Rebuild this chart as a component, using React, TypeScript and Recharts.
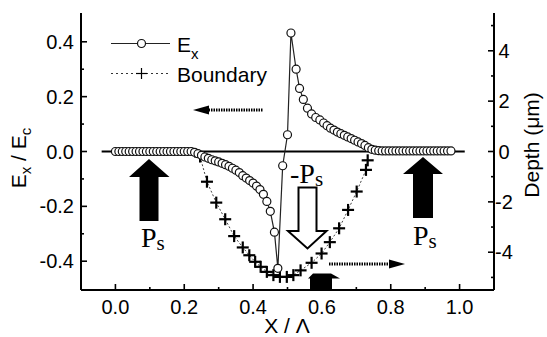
import React from 'react';
import { ComposedChart, Line, XAxis, YAxis, ReferenceLine } from 'recharts';

// E_x / E_c values along X / Lambda
const exX = [
  0.0, 0.01, 0.02, 0.03, 0.04, 0.05, 0.06, 0.07, 0.08, 0.09,
  0.1, 0.11, 0.12, 0.13, 0.14, 0.15, 0.16, 0.17, 0.18, 0.19,
  0.2, 0.21, 0.22, 0.23, 0.24, 0.25, 0.26, 0.27, 0.28, 0.29,
  0.3, 0.31, 0.32, 0.33, 0.34, 0.35, 0.36, 0.37, 0.38, 0.39,
  0.4, 0.41, 0.42, 0.43, 0.44, 0.45, 0.462, 0.472, 0.486, 0.5,
  0.51, 0.525, 0.535, 0.546, 0.558, 0.57, 0.582, 0.594, 0.605, 0.615,
  0.625, 0.635, 0.645, 0.655, 0.665, 0.675, 0.685, 0.695, 0.705, 0.715,
  0.725, 0.735, 0.745, 0.755, 0.765, 0.775, 0.785, 0.795, 0.805, 0.815,
  0.825, 0.835, 0.845, 0.855, 0.865, 0.875, 0.885, 0.895, 0.905, 0.915,
  0.925, 0.935, 0.945, 0.955, 0.965, 0.975,
];
const exY = [
  0, 0, 0, 0, 0, 0, 0, 0, 0, 0,
  0, 0, 0, 0, 0, 0, 0, 0, 0, 0,
  0, 0, 0, -0.003, -0.008, -0.014, -0.02, -0.025, -0.03, -0.034,
  -0.038, -0.043, -0.048, -0.054, -0.061, -0.068, -0.077, -0.088, -0.097, -0.106,
  -0.115, -0.126, -0.139, -0.156, -0.182, -0.218, -0.294, -0.426, -0.052, 0.061,
  0.432, 0.3, 0.23, 0.19, 0.158, 0.137, 0.124, 0.115, 0.104, 0.094,
  0.085, 0.078, 0.071, 0.065, 0.059, 0.053, 0.047, 0.041, 0.035, 0.029,
  0.022, 0.014, 0.008, 0.005, 0.003, 0.002, 0.002, 0.002, 0.002, 0.002,
  0.002, 0.002, 0.002, 0.002, 0.002, 0.002, 0.002, 0.002, 0.002, 0.002,
  0.002, 0.002, 0.002, 0.002, 0.002, 0.002,
];

// Domain boundary depth (um) along X / Lambda
const bX = [
  0.246, 0.266, 0.293, 0.319, 0.345, 0.37, 0.389, 0.406, 0.422, 0.44,
  0.459, 0.478, 0.498, 0.517, 0.538, 0.57, 0.599, 0.623, 0.65, 0.676,
  0.701, 0.728, 0.733,
];
const bDepth = [
  -0.2, -1.2, -2.03, -2.69, -3.36, -3.81, -4.12, -4.38, -4.58, -4.78,
  -4.91, -4.98, -4.98, -4.91, -4.72, -4.42, -4.05, -3.6, -3.05, -2.32,
  -1.59, -0.73, -0.35,
];

const xTicks = [0, 0.1, 0.2, 0.3, 0.4, 0.5, 0.6, 0.7, 0.8, 0.9, 1.0];
const leftTicks = [-0.4, -0.3, -0.2, -0.1, 0, 0.1, 0.2, 0.3, 0.4];
const rightTicks = [-5, -4, -3, -2, -1, 0, 1, 2, 3, 4, 5];

const exData = exX.map((x, i) => ({ x, ex: exY[i] }));
const bData = bX.map((x, i) => ({ x, depth: bDepth[i] }));

const SANS = '"Liberation Sans", Arial, Helvetica, sans-serif';
const SERIF = '"Liberation Serif", "Times New Roman", serif';
const TICK_FS = 20;

const isMajor10 = (v: number) => Math.round(v * 10) % 2 === 0;

const BottomTick = (p: any) => {
  const { x, y, payload } = p;
  const v = payload.value;
  const major = isMajor10(v);
  return (
    <g>
      <line x1={x} x2={x} y1={y} y2={y - (major ? 6 : 3)} stroke="#000" strokeWidth={1.6} />
      {major && (
        <text x={x} y={y + 24} textAnchor="middle" fontFamily={SANS} fontSize={TICK_FS} fill="#000">
          {v.toFixed(1)}
        </text>
      )}
    </g>
  );
};

const TopTick = (p: any) => {
  const { x, y, payload } = p;
  const major = isMajor10(payload.value);
  return <line x1={x} x2={x} y1={y} y2={y + (major ? 6 : 3)} stroke="#000" strokeWidth={1.6} />;
};

const LeftTick = (p: any) => {
  const { x, y, payload } = p;
  const v = payload.value;
  const major = isMajor10(v);
  return (
    <g>
      <line x1={x} x2={x + (major ? 6 : 3)} y1={y} y2={y} stroke="#000" strokeWidth={1.6} />
      {major && (
        <text x={x - 7} y={y + 7} textAnchor="end" fontFamily={SANS} fontSize={TICK_FS} fill="#000">
          {v.toFixed(1)}
        </text>
      )}
    </g>
  );
};

const RightTick = (p: any) => {
  const { x, y, payload } = p;
  const v = payload.value;
  const major = Math.abs(v) % 2 === 0;
  return (
    <g>
      <line x1={x} x2={x - (major ? 6 : 3)} y1={y} y2={y} stroke="#000" strokeWidth={1.6} />
      {major && (
        <text x={x + 10} y={y + 7} textAnchor="middle" fontFamily={SANS} fontSize={TICK_FS} fill="#000">
          {String(v)}
        </text>
      )}
    </g>
  );
};

const CircleDot = (p: any) => {
  const { cx, cy } = p;
  if (cx == null || cy == null) return <g />;
  return <circle cx={cx} cy={cy} r={4} fill="#fff" stroke="#111" strokeWidth={1.2} />;
};

const PlusDot = (p: any) => {
  const { cx, cy } = p;
  if (cx == null || cy == null) return <g />;
  return (
    <g stroke="#000" strokeWidth={2.2}>
      <line x1={cx - 6} x2={cx + 6} y1={cy} y2={cy} />
      <line x1={cx} x2={cx} y1={cy - 6} y2={cy + 6} />
    </g>
  );
};

const axisLine = { stroke: '#000', strokeWidth: 2 };

function Overlay() {
  return (
    <svg
      width={547}
      height={337}
      style={{ position: 'absolute', left: 0, top: 0, pointerEvents: 'none' }}
    >
      {/* legend */}
      <line x1={111} x2={170} y1={43.5} y2={43.5} stroke="#222" strokeWidth={1.2} />
      <circle cx={141.5} cy={43.5} r={4} fill="#fff" stroke="#111" strokeWidth={1.2} />
      <text x={177} y={51.5} fontFamily={SANS} fontSize={21} fill="#000">
        E<tspan fontSize={15} dy={7}>x</tspan>
      </text>
      <line x1={111} x2={170} y1={73.5} y2={73.5} stroke="#333" strokeWidth={1} strokeDasharray="2 3" />
      <line x1={136} x2={147} y1={73.5} y2={73.5} stroke="#000" strokeWidth={1.2} />
      <line x1={141.5} x2={141.5} y1={68} y2={79} stroke="#000" strokeWidth={1.2} />
      <text x={177} y={81.5} fontFamily={SANS} fontSize={21} fill="#000">Boundary</text>

      {/* axis titles */}
      <text transform="translate(26,158) rotate(-90)" textAnchor="middle" fontFamily={SANS} fontSize={21} fill="#000">
        E<tspan fontSize={15} dy={5}>x</tspan>
        <tspan dy={-5}> / E</tspan>
        <tspan fontSize={15} dy={5}>c</tspan>
      </text>
      <text transform="translate(539,145) rotate(-90)" textAnchor="middle" fontFamily={SANS} fontSize={21} fill="#000">
        Depth (μm)
      </text>
      <text x={287} y={333} textAnchor="middle" fontFamily={SANS} fontSize={21} fill="#000">X / Λ</text>

      {/* left P_s arrow */}
      <polygon
        points="149,159 169.5,177 158.5,177 158.5,221 139.5,221 139.5,177 129,177"
        fill="#000"
      />
      <text x={141} y={247} fontFamily={SERIF} fontSize={28} fill="#000">
        P<tspan fontSize={21} dy={3}>s</tspan>
      </text>

      {/* right P_s arrow */}
      <polygon
        points="423,157 443,174 433,174 433,218 413,218 413,174 403,174"
        fill="#000"
      />
      <text x={413} y={245} fontFamily={SERIF} fontSize={28} fill="#000">
        P<tspan fontSize={21} dy={3}>s</tspan>
      </text>

      {/* -P_s open arrow */}
      <text x={290} y={183} fontFamily={SERIF} fontSize={28} fill="#000">
        -P<tspan fontSize={21} dy={3}>s</tspan>
      </text>
      <polygon
        points="298.5,187.5 316.5,187.5 316.5,231 326.5,231 307.5,248.5 288,231 298.5,231"
        fill="#fff"
        stroke="#000"
        strokeWidth={2}
      />

      {/* left-pointing arrow */}
      <line x1={206} x2={263} y1={110} y2={110} stroke="#000" strokeWidth={3} strokeDasharray="1.5 1" />
      <polygon points="193,110 209,105.5 209,114.5" fill="#000" />

      {/* right-pointing arrow */}
      <line x1={329} x2={391} y1={264} y2={264} stroke="#000" strokeWidth={3} strokeDasharray="1.5 1" />
      <polygon points="405,264 389,259.5 389,268.5" fill="#000" />

      {/* small black arrow at bottom */}
      <polygon
        points="310,290 310,278.5 308,278.5 313,273.5 331,273.5 340,278.5 332,278.5 332,290"
        fill="#000"
      />
    </svg>
  );
}

export default function App() {
  return (
    <div style={{ position: 'absolute', left: 0, top: 0, width: 547, height: 337, background: '#fff' }}>
      <ComposedChart width={547} height={337} margin={{ top: 13, right: 0, bottom: 0, left: 0 }}>
        <XAxis
          xAxisId="bottom"
          type="number"
          dataKey="x"
          domain={[-0.1, 1.1]}
          ticks={xTicks}
          interval={0}
          allowDataOverflow
          height={47}
          tickSize={0}
          tickMargin={0}
          tickLine={false}
          axisLine={axisLine}
          tick={BottomTick}
        />
        <XAxis
          xAxisId="top"
          orientation="top"
          type="number"
          dataKey="x"
          domain={[-0.1, 1.1]}
          ticks={xTicks}
          interval={0}
          allowDataOverflow
          height={0}
          tickSize={0}
          tickMargin={0}
          tickLine={false}
          axisLine={axisLine}
          tick={TopTick}
        />
        <YAxis
          yAxisId="left"
          type="number"
          domain={[-0.505, 0.505]}
          ticks={leftTicks}
          interval={0}
          allowDataOverflow
          width={81}
          tickSize={0}
          tickMargin={0}
          tickLine={false}
          axisLine={axisLine}
          tick={LeftTick}
        />
        <YAxis
          yAxisId="right"
          orientation="right"
          type="number"
          domain={[-5.5, 5.5]}
          ticks={rightTicks}
          interval={0}
          allowDataOverflow
          width={53}
          tickSize={0}
          tickMargin={0}
          tickLine={false}
          axisLine={axisLine}
          tick={RightTick}
        />
        <ReferenceLine
          xAxisId="bottom"
          yAxisId="left"
          segment={[{ x: -0.04, y: 0 }, { x: 1.015, y: 0 }]}
          stroke="#000"
          strokeWidth={2}
          ifOverflow="visible"
        />
        <Line
          data={bData}
          xAxisId="bottom"
          yAxisId="right"
          dataKey="depth"
          stroke="#444"
          strokeWidth={1}
          strokeDasharray="2 2"
          dot={PlusDot}
          isAnimationActive={false}
        />
        <Line
          data={exData}
          xAxisId="bottom"
          yAxisId="left"
          dataKey="ex"
          stroke="#222"
          strokeWidth={1.2}
          dot={CircleDot}
          isAnimationActive={false}
        />
      </ComposedChart>
      <Overlay />
    </div>
  );
}
